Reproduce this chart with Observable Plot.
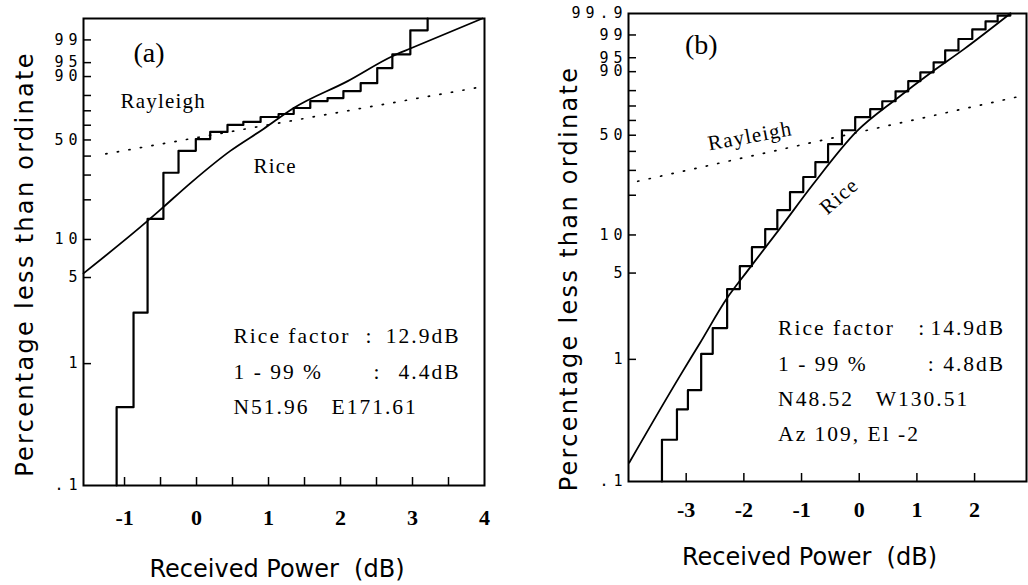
<!DOCTYPE html>
<html>
<head>
<meta charset="utf-8">
<script src="https://cdn.jsdelivr.net/npm/d3@7"></script>
<script src="https://cdn.jsdelivr.net/npm/@observablehq/plot@0.6"></script>
<style>
html,body{margin:0;padding:0;background:#fff;}
#wrap{display:flex;flex-direction:row;width:1028px;height:585px;overflow:hidden;}
#wrap svg{flex:none;}
svg text{white-space:pre;}
</style>
</head>
<body>
<div id="wrap"></div>
<script>
// ---------------- Panel (a) data ----------------
const stepA_dB  = [-1.11, -0.875, -0.68, -0.46, -0.25, -0.01, 0.19, 0.43, 0.65, 0.89, 1.14, 1.35, 1.58, 1.82, 2.04, 2.28, 2.51, 2.72, 2.97, 3.21];
const stepA_pct = [0.44, 2.6, 14.4, 31.1, 43.1, 50.6, 55.4, 60.2, 62.3, 65.7, 67.8, 71.9, 76.5, 78.4, 82.6, 86.9, 93.3, 97.0, 99.6, 99.9];
const riceA_dB  = [-1.57, -0.68, -0.47, -0.08, 0.47, 0.93, 1.35, 2.10, 2.72, 2.97, 3.97];
const riceA_pct = [5.4, 13.9, 17.5, 26.5, 43.1, 57.4, 71.9, 87.9, 96.6, 98.0, 99.9];
const rayA_dB   = [-1.26, 3.94];
const rayA_pct  = [41.3, 84.8];

// ---------------- Panel (b) data ----------------
const stepB_dB  = [-3.42, -3.16, -2.97, -2.74, -2.54, -2.29, -2.07, -1.86, -1.63, -1.42, -1.20, -0.97, -0.76, -0.54, -0.30, -0.07, 0.19, 0.40, 0.63, 0.85, 1.06, 1.29, 1.49, 1.72, 1.96, 2.19, 2.40, 2.62];
const stepB_pct = [0.22, 0.39, 0.56, 1.11, 1.80, 3.72, 5.68, 8.03, 11.1, 15.5, 21.1, 27.0, 34.1, 44.3, 53.3, 62.3, 67.8, 73.2, 79.6, 85.4, 89.7, 93.6, 96.8, 98.6, 99.4, 99.74, 99.87, 99.9];
const riceB_dB  = [-3.99, -3.11, -2.76, -2.29, -1.94, -1.37, -0.80, -0.04, 0.66, 1.23, 1.81, 2.62];
const riceB_pct = [0.142, 0.73, 1.36, 3.15, 5.18, 11.3, 24.0, 52.7, 75.2, 89.3, 97.0, 99.9];
const rayB_dB   = [-3.84, 2.88];
const rayB_pct  = [25.2, 77.2];

// ---------------- Axes ----------------
const yTickPct   = [1, 5, 10, 20, 30, 40, 50, 60, 70, 80, 90, 95, 99];
const yLabPctA   = [0.1, 1, 5, 10, 50, 90, 95, 99];
const yLabTxtA   = [".1", "1", "5", "10", "50", "90", "95", "99"];
const yLabPctB   = [0.1, 1, 5, 10, 50, 90, 95, 99, 99.9];
const yLabTxtB   = [".1", "1", "5", "10", "50", "90", "95", "99", "99.9"];
const xTicksA    = [-1, -0.5, 0, 0.5, 1, 1.5, 2, 2.5, 3, 3.5];
const xLabelsA   = [-1, 0, 1, 2, 3, 4];
const xTicksB    = [-3, -2, -1, 0, 1, 2];
const xLabelsB   = [-3, -2, -1, 0, 1, 2];

// ---------------- Texts ----------------
const yTitle = "Percentage less than ordinate";
const xTitle = "Received Power  (dB)";
const infoA  = ["Rice factor", ":", "12.9dB", "1 - 99 %", ":", "4.4dB", "N51.96   E171.61"];
const infoB  = ["Rice factor", ":", "14.9dB", "1 - 99 %", ":", "4.8dB", "N48.52   W130.51", "Az 109, El -2"];

// Rayleigh probability paper: log10(-ln(1 - P))
const R = p => Math.log10(-Math.log(1 - p / 100));
const zip = (xs, ps) => xs.map((x, i) => ({x, p: ps[i]}));
const Y = d => R(d.p);

function makePanel(c) {
  const labelMap = new Map(c.yLabPct.map((p, i) => [R(p), c.yLabTxt[i]]));
  const steps = [{x: c.stepDb[0], p: 0.1}, ...zip(c.stepDb, c.stepPct)];
  const serif = "Liberation Serif";
  const info = c.info.map((t, i) => ({t, x: c.infoPos[i][0], p: c.infoPos[i][1], a: c.infoPos[i][2]}));
  const marks = [
    Plot.line(zip(c.rayDb, c.rayPct), {x: "x", y: Y, stroke: "black", strokeWidth: 1.7, strokeDasharray: "1.2 10.5", strokeLinecap: "round"}),
    Plot.line(zip(c.riceDb, c.ricePct), {x: "x", y: Y, curve: "monotone-x", stroke: "black", strokeWidth: 1.8}),
    Plot.line(steps, {x: "x", y: Y, curve: "step-after", stroke: "black", strokeWidth: 2.2}),
    Plot.frame({stroke: "black", strokeWidth: 2}),
    Plot.axisY(yTickPct.map(R), {tickSize: -8, tickFormat: () => "", strokeWidth: 1.5, label: null}),
    Plot.axisY(c.yLabPct.map(R), {tickSize: 0, tickPadding: 1, tickFormat: v => labelMap.get(v), fontFamily: "DejaVu Sans Mono", fontSize: 15, label: null}),
    Plot.axisX(c.xTicks, {tickSize: -8, tickFormat: () => "", strokeWidth: 1.5, label: null}),
    Plot.axisX(c.xLabels, {tickSize: 0, tickPadding: c.xPad, tickFormat: d => String(d), fontFamily: serif, fontWeight: "bold", fontSize: 22, label: null}),
    Plot.text([yTitle], {frameAnchor: "left", dx: c.yTitleDx, dy: c.yTitleDy, rotate: -90, textAnchor: "middle", lineAnchor: "middle", fontFamily: "DejaVu Sans", fontSize: 24}),
    Plot.text([xTitle], {frameAnchor: "bottom", dx: c.xTitleDx, dy: c.xTitleDy, textAnchor: "middle", lineAnchor: "middle", fontFamily: "DejaVu Sans", fontSize: 24}),
    Plot.text([c.tag], {x: c.tagPos[0], y: R(c.tagPos[1]), textAnchor: "start", lineAnchor: "middle", fontFamily: serif, fontSize: 28}),
    Plot.text(["Rayleigh"], {x: c.rayLab[0], y: R(c.rayLab[1]), textAnchor: c.rayLab[2], lineAnchor: "middle", rotate: c.rayLab[3], fontFamily: serif, fontSize: 21}),
    Plot.text(["Rice"], {x: c.riceLab[0], y: R(c.riceLab[1]), textAnchor: c.riceLab[2], lineAnchor: "middle", rotate: c.riceLab[3], fontFamily: serif, fontSize: 21}),
    Plot.text(info.filter(d => d.a === "start"), {x: "x", y: Y, text: "t", textAnchor: "start", lineAnchor: "middle", fontFamily: serif, fontSize: 21.5}),
    Plot.text(info.filter(d => d.a === "end"), {x: "x", y: Y, text: "t", textAnchor: "end", lineAnchor: "middle", fontFamily: serif, fontSize: 21.5})
  ];
  const svg = Plot.plot({
    width: 514, height: 585,
    marginLeft: c.m[0], marginRight: c.m[1], marginTop: c.m[2], marginBottom: c.m[3],
    x: {domain: c.xDomain, axis: null, label: null},
    y: {domain: [R(0.1), R(99.9)], axis: null, label: null},
    style: {background: "white", color: "black", fontFamily: "DejaVu Sans", overflow: "visible"},
    marks
  });
  const s = d3.select(svg);
  const infoSet = new Set(c.info);
  s.selectAll('g[aria-label="y-axis tick label"] text').style("letter-spacing", "5px");
  s.selectAll("text").each(function () {
    const t = this.textContent;
    if (t === yTitle) this.style.letterSpacing = "2.3px";
    else if (infoSet.has(t)) this.style.letterSpacing = "2px";
    else if (t === "Rayleigh" || t === "Rice") this.style.letterSpacing = "1.2px";
  });
  return svg;
}

const panelA = makePanel({
  m: [83, 30, 18, 100],
  xDomain: [-1.57, 4],
  stepDb: stepA_dB, stepPct: stepA_pct,
  riceDb: riceA_dB, ricePct: riceA_pct,
  rayDb: rayA_dB, rayPct: rayA_pct,
  yLabPct: yLabPctA, yLabTxt: yLabTxtA,
  xTicks: xTicksA, xLabels: xLabelsA, xPad: 24,
  yTitleDx: -58, yTitleDy: 12,
  xTitleDx: -7, xTitleDy: 84,
  tag: "(a)", tagPos: [-0.875, 97.2],
  rayLab: [-1.056, 76.5, "start", 0],
  riceLab: [0.792, 34.6, "start", 0],
  info: infoA,
  infoPos: [[0.514, 1.67, "start"], [2.347, 1.67, "start"], [3.667, 1.67, "end"],
            [0.514, 0.85, "start"], [2.458, 0.85, "start"], [3.667, 0.85, "end"],
            [0.514, 0.44, "start"]]
});

const panelB = makePanel({
  m: [114, 2, 13, 104],
  xDomain: [-4, 2.9],
  stepDb: stepB_dB, stepPct: stepB_pct,
  riceDb: riceB_dB, ricePct: riceB_pct,
  rayDb: rayB_dB, rayPct: rayB_pct,
  yLabPct: yLabPctB, yLabTxt: yLabTxtB,
  xTicks: xTicksB, xLabels: xLabelsB, xPad: 20,
  yTitleDx: -59, yTitleDy: 31,
  xTitleDx: -18, xTitleDy: 76,
  tag: "(b)", tagPos: [-3.021, 97.7],
  rayLab: [-1.892, 49.4, "middle", -10.5],
  riceLab: [-0.347, 19.7, "middle", -41],
  info: infoB,
  infoPos: [[-1.406, 1.80, "start"], [1.024, 1.80, "start"], [2.53, 1.80, "end"],
            [-1.406, 0.916, "start"], [1.19, 0.916, "start"], [2.53, 0.916, "end"],
            [-1.406, 0.474, "start"], [-1.406, 0.245, "start"]]
});

const wrap = document.getElementById("wrap");
wrap.appendChild(panelA);
wrap.appendChild(panelB);
</script>
</body>
</html>
